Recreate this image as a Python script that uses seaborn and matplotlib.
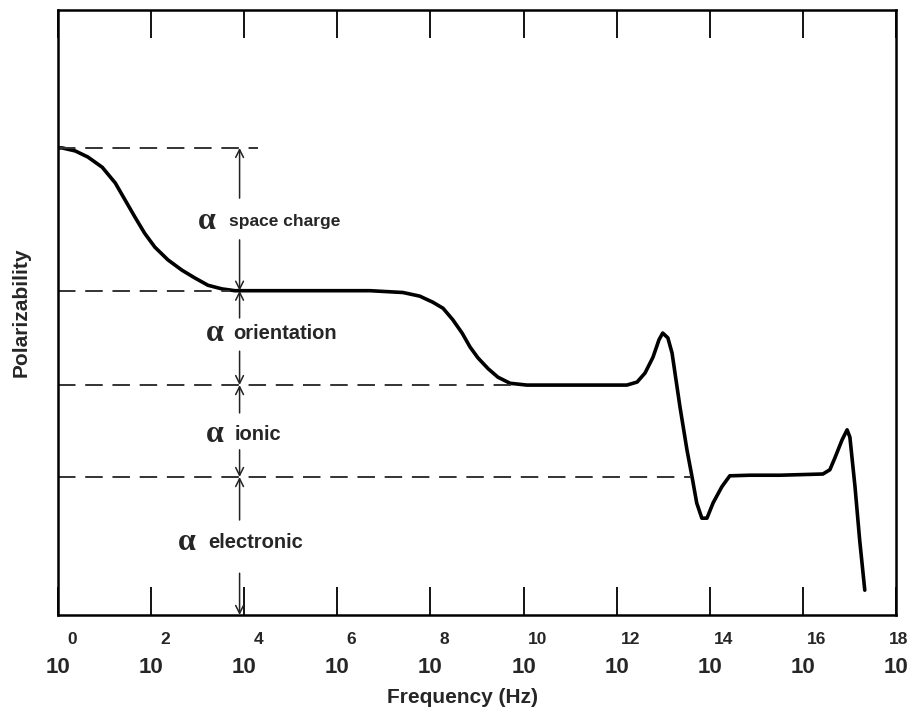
import matplotlib
matplotlib.use("Agg")
import matplotlib.pyplot as plt
import seaborn as sns
import pandas as pd

# frequency as log10(Hz), polarizability in arbitrary units
log_freq = [0.0, 0.09, 0.37, 0.64, 0.95, 1.23, 1.44, 1.65, 1.86, 2.08, 2.36, 2.66,
            2.94, 3.22, 3.52, 3.80, 6.70, 7.41, 7.77, 8.05, 8.27, 8.48, 8.68, 8.85,
            9.02, 9.24, 9.45, 9.71, 10.07, 11.64, 12.22, 12.44, 12.61, 12.78, 12.91,
            12.99, 13.10, 13.19, 13.36, 13.51, 13.62, 13.72, 13.83, 13.94, 14.07,
            14.26, 14.43, 14.86, 15.51, 16.43, 16.58, 16.69, 16.84, 16.95, 17.01,
            17.12, 17.22, 17.33]
polar = [7.72, 7.72, 7.67, 7.57, 7.40, 7.14, 6.86, 6.58, 6.31, 6.08, 5.87, 5.70,
         5.57, 5.45, 5.39, 5.36, 5.36, 5.33, 5.27, 5.17, 5.07, 4.88, 4.66, 4.43,
         4.25, 4.07, 3.93, 3.83, 3.80, 3.80, 3.80, 3.85, 4.00, 4.26, 4.55,
         4.66, 4.58, 4.33, 3.44, 2.73, 2.28, 1.85, 1.60, 1.60, 1.85,
         2.12, 2.30, 2.31, 2.31, 2.33, 2.40, 2.60, 2.89, 3.06, 2.94,
         2.12, 1.24, 0.41]

levels = [7.72, 5.36, 3.80, 2.28]
level_ends = [4.3, 3.7, 9.8, 13.6]

mechanisms = ["space charge", "orientation", "ionic", "electronic"]
label_y = [6.50, 4.66, 2.98, 1.19]
alpha_x = [3.00, 3.18, 3.18, 2.58]
word_x = [3.67, 3.76, 3.80, 3.22]
word_size = [12.5, 14.5, 14.5, 14.5]

# arrow tails (up-arrow tail, down-arrow tail) per band
up_tails = [6.89, 4.91, 3.34, 1.57]
down_tails = [6.20, 4.36, 2.73, 0.69]
arrow_x = 3.9

exponents = list(range(0, 19, 2))

df = pd.DataFrame({"log_freq": log_freq, "polar": polar})

sns.set_style("white")
plt.rcParams["font.family"] = ["Liberation Sans Narrow", "Liberation Sans", "DejaVu Sans"]

fig = plt.figure(figsize=(9.11, 7.08), dpi=100)
ax = fig.add_axes([0.0637, 0.1314, 0.9198, 0.8545])

sns.lineplot(data=df, x="log_freq", y="polar", color="black", lw=2.6, ax=ax)

for lev, end in zip(levels, level_ends):
    ax.hlines(lev, 0, end, colors="#333333", lw=1.4, linestyles=(0, (9, 5)))

bottoms = levels[1:] + [0.0]
arrow_kw = dict(arrowstyle="->", color="#222222", lw=1.1, mutation_scale=14,
                shrinkA=0, shrinkB=0)
for top, bot, ut, dt in zip(levels, bottoms, up_tails, down_tails):
    ax.annotate("", xy=(arrow_x, top), xytext=(arrow_x, ut), arrowprops=arrow_kw)
    ax.annotate("", xy=(arrow_x, bot), xytext=(arrow_x, dt), arrowprops=arrow_kw)

for name, y, axx, wx, ws in zip(mechanisms, label_y, alpha_x, word_x, word_size):
    ax.text(axx, y, "α", family="Liberation Serif", fontsize=23, fontweight="bold",
            va="center", ha="left")
    ax.text(wx, y, name, fontsize=ws, fontweight="bold", va="center", ha="left",
            family=["Liberation Sans", "DejaVu Sans"])

ax.set_xlim(0, 18)
ax.set_ylim(0, 10)
ax.set_yticks([])
ax.set_xticks(exponents)
ax.set_xticklabels(["10"] * len(exponents), fontsize=16, fontweight="bold")
ax.tick_params(axis="x", direction="in", length=20, width=1.3, top=True, bottom=True,
               labeltop=False, pad=30, color="black")
for e in exponents:
    dx = 10 if e < 18 else 2
    ax.annotate(str(e), xy=(e, 0), xycoords=("data", "axes fraction"),
                xytext=(dx, -18), textcoords="offset points", ha="center",
                va="center", fontsize=12.5, fontweight="bold")

for sp in ax.spines.values():
    sp.set_visible(True)
    sp.set_color("black")
    sp.set_linewidth(1.8)

ax.set_xlabel("Frequency (Hz)", fontsize=15, fontweight="bold")
ax.xaxis.set_label_coords(0.483, -0.12)
ax.set_ylabel("Polarizability", fontsize=15, fontweight="bold", labelpad=20)

fig.savefig("out.png", dpi=100)
